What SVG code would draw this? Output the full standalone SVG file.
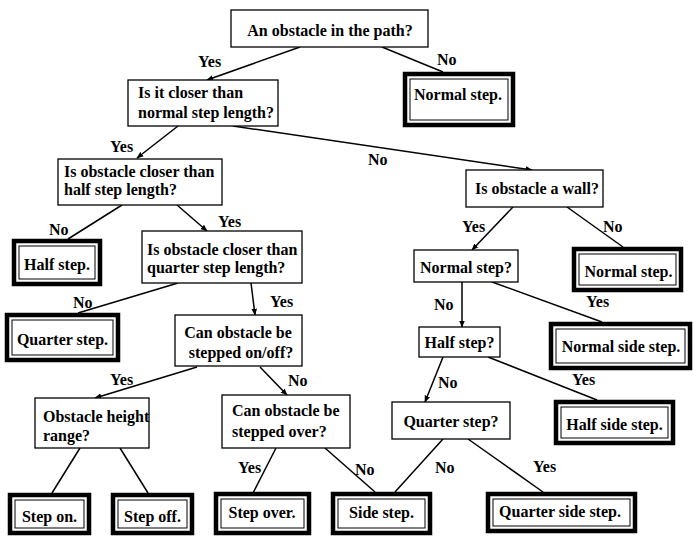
<svg xmlns="http://www.w3.org/2000/svg" width="694" height="538" viewBox="0 0 694 538">
<style>
text{font-family:"Liberation Serif","Times New Roman",serif;font-size:16px;font-weight:bold;fill:#000}
.m{text-anchor:middle}
.q{fill:#fff;stroke:#000;stroke-width:1.3}
.to{fill:#fff;stroke:#000;stroke-width:4.5}
.ti{fill:none;stroke:#000;stroke-width:1}
.c{stroke:#000;stroke-width:1.5;fill:none}
.a{marker-end:url(#ah)}
</style>
<defs>
<marker id="ah" viewBox="0 0 10 10" refX="9" refY="5" markerWidth="7" markerHeight="7" markerUnits="userSpaceOnUse" orient="auto">
<path d="M0,1 L10,5 L0,9 z" fill="#000"/>
</marker>
</defs>
<rect width="694" height="538" fill="#fff"/>
<g id="connectors">
<line class="c a" x1="300" y1="47" x2="207" y2="80"/>
<line class="c" x1="382" y1="47" x2="443" y2="72"/>
<line class="c a" x1="178" y1="126" x2="137" y2="158"/>
<line class="c a" x1="233" y1="126" x2="532" y2="170"/>
<line class="c" x1="122" y1="205" x2="68" y2="239"/>
<line class="c a" x1="177" y1="205" x2="207" y2="231"/>
<line class="c" x1="178" y1="283" x2="78" y2="313"/>
<line class="c a" x1="251" y1="283" x2="255" y2="315"/>
<line class="c a" x1="513" y1="207" x2="472" y2="250"/>
<line class="c" x1="567" y1="207" x2="623" y2="247"/>
<line class="c a" x1="462" y1="282" x2="462" y2="327"/>
<line class="c" x1="492" y1="282" x2="602" y2="322"/>
<line class="c a" x1="197" y1="367" x2="95" y2="398"/>
<line class="c a" x1="260" y1="367" x2="287" y2="395"/>
<line class="c" x1="80" y1="448" x2="52" y2="493"/>
<line class="c" x1="120" y1="448" x2="148" y2="493"/>
<line class="c" x1="276" y1="448" x2="253" y2="493"/>
<line class="c" x1="325" y1="448" x2="375" y2="492"/>
<line class="c a" x1="443" y1="357" x2="425" y2="402"/>
<line class="c" x1="488" y1="357" x2="597" y2="400"/>
<line class="c" x1="443" y1="439" x2="395" y2="492"/>
<line class="c" x1="468" y1="439" x2="543" y2="492"/>
<text x="198" y="67">Yes</text>
<text x="437" y="65">No</text>
<text x="110" y="152">Yes</text>
<text x="368" y="165">No</text>
<text x="49" y="235">No</text>
<text x="218" y="227">Yes</text>
<text x="73" y="308">No</text>
<text x="270" y="307">Yes</text>
<text x="462" y="232">Yes</text>
<text x="603" y="232">No</text>
<text x="434" y="310">No</text>
<text x="586" y="307">Yes</text>
<text x="110" y="385">Yes</text>
<text x="288" y="386">No</text>
<text x="238" y="473">Yes</text>
<text x="355" y="475">No</text>
<text x="438" y="388">No</text>
<text x="572" y="385">Yes</text>
<text x="435" y="473">No</text>
<text x="533" y="472">Yes</text>
</g>
<g id="n1"><rect class="q" x="231" y="10" width="197" height="37"/><text class="m" x="330" y="36">An obstacle in the path?</text></g>
<g id="n2"><rect class="to" x="405" y="74" width="108" height="51"/><rect class="ti" x="410" y="79" width="98" height="41"/><text class="m" x="458" y="100">Normal step.</text></g>
<g id="n3"><rect class="q" x="128" y="80" width="150" height="46"/><text x="138" y="98">Is it closer than</text><text x="138" y="118">normal step length?</text></g>
<g id="n4"><rect class="q" x="58" y="159" width="164" height="46"/><text x="64" y="177">Is obstacle closer than</text><text x="64" y="195">half step length?</text></g>
<g id="n5"><rect class="q" x="466" y="170" width="137" height="37"/><text class="m" x="537" y="194">Is obstacle a wall?</text></g>
<g id="n6"><rect class="to" x="14" y="241" width="86" height="43"/><rect class="ti" x="19" y="246" width="76" height="33"/><text class="m" x="57" y="270">Half step.</text></g>
<g id="n7"><rect class="q" x="142" y="231" width="160" height="52"/><text x="147" y="255">Is obstacle closer than</text><text x="147" y="273">quarter step length?</text></g>
<g id="n8"><rect class="q" x="414" y="250" width="104" height="32"/><text class="m" x="466" y="273">Normal step?</text></g>
<g id="n9"><rect class="to" x="574" y="249" width="107" height="41"/><rect class="ti" x="579" y="254" width="97" height="31"/><text class="m" x="628.5" y="277">Normal step.</text></g>
<g id="n10"><rect class="to" x="7" y="315" width="111" height="45"/><rect class="ti" x="12" y="320" width="101" height="35"/><text class="m" x="62.5" y="345">Quarter step.</text></g>
<g id="n11"><rect class="q" x="175" y="315" width="127" height="51"/><text class="m" x="238" y="338">Can obstacle be</text><text class="m" x="241" y="358">stepped on/off?</text></g>
<g id="n12"><rect class="q" x="419" y="327" width="81" height="30"/><text class="m" x="459.5" y="348">Half step?</text></g>
<g id="n13"><rect class="to" x="551" y="324" width="139" height="44"/><rect class="ti" x="556" y="329" width="129" height="34"/><text class="m" x="621" y="352">Normal side step.</text></g>
<g id="n14"><rect class="q" x="35" y="398" width="114" height="50"/><text x="43" y="422">Obstacle height</text><text x="43" y="441">range?</text></g>
<g id="n15"><rect class="q" x="222" y="395" width="128" height="53"/><text x="232" y="416">Can obstacle be</text><text x="232" y="437">stepped over?</text></g>
<g id="n16"><rect class="q" x="392" y="402" width="118" height="37"/><text class="m" x="451" y="427">Quarter step?</text></g>
<g id="n17"><rect class="to" x="556" y="402" width="117" height="41"/><rect class="ti" x="561" y="407" width="107" height="31"/><text class="m" x="614.5" y="430">Half side step.</text></g>
<g id="n18"><rect class="to" x="10" y="495" width="79" height="38"/><rect class="ti" x="15" y="500" width="69" height="28"/><text class="m" x="49.5" y="522">Step on.</text></g>
<g id="n19"><rect class="to" x="113" y="495" width="79" height="38"/><rect class="ti" x="118" y="500" width="69" height="28"/><text class="m" x="152.5" y="522">Step off.</text></g>
<g id="n20"><rect class="to" x="216" y="494" width="93" height="39"/><rect class="ti" x="221" y="499" width="83" height="29"/><text class="m" x="262" y="518">Step over.</text></g>
<g id="n21"><rect class="to" x="333" y="494" width="97" height="39"/><rect class="ti" x="338" y="499" width="87" height="29"/><text class="m" x="381.5" y="518">Side step.</text></g>
<g id="n22"><rect class="to" x="488" y="494" width="147" height="37"/><rect class="ti" x="493" y="499" width="137" height="27"/><text class="m" x="560" y="517">Quarter side step.</text></g>
</svg>
